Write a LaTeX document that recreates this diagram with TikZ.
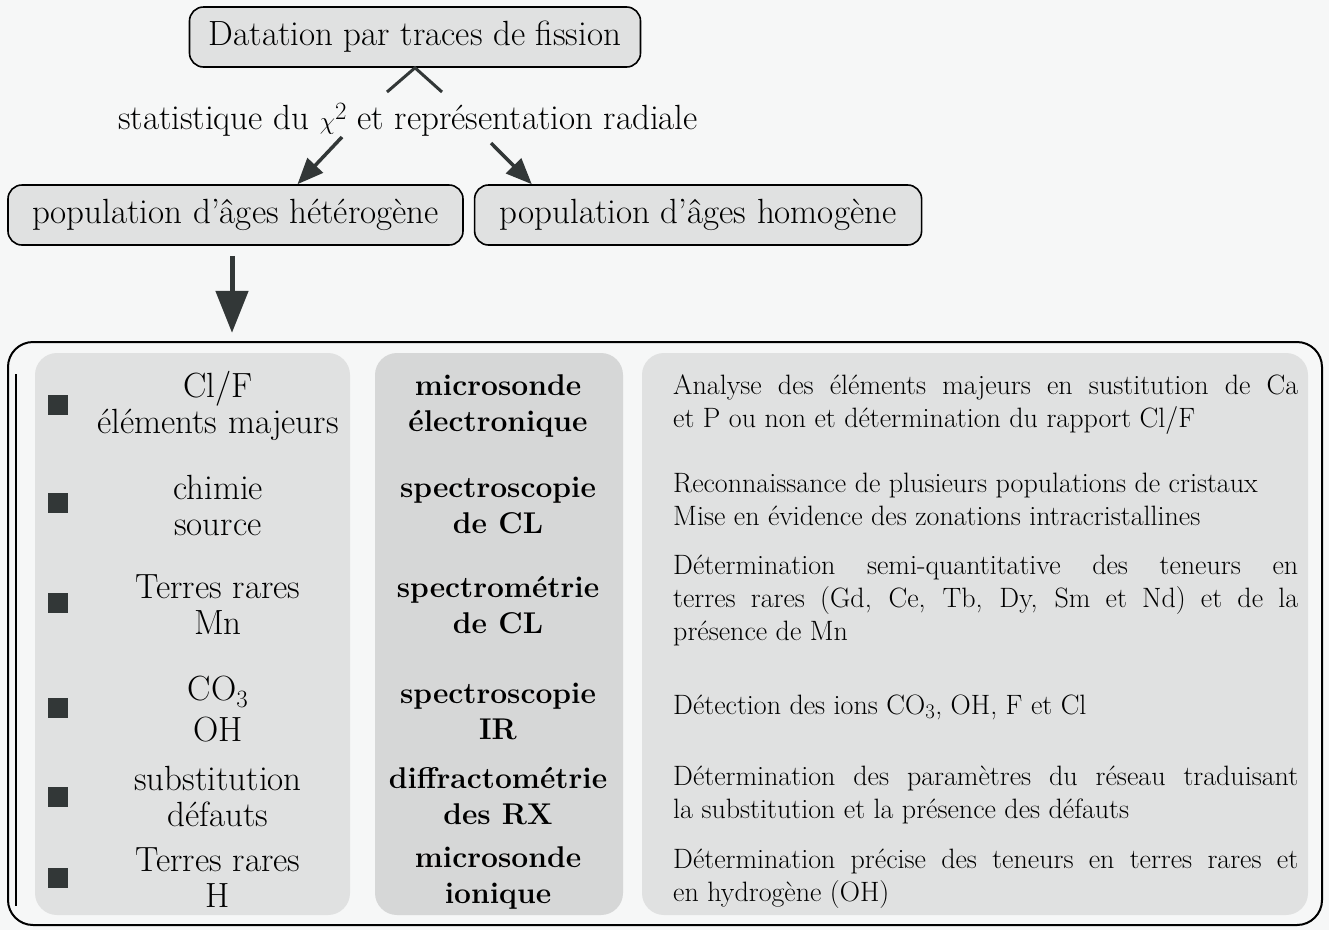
\documentclass[tikz,border=0pt]{standalone}
\usepackage{tikz}
\usetikzlibrary{arrows.meta,positioning}

\definecolor{paper}{RGB}{246,247,247}
\definecolor{boxgray}{RGB}{224,225,225}
\definecolor{panelgray}{RGB}{224,225,225}
\definecolor{midgray}{RGB}{214,215,215}
\definecolor{arrowgray}{RGB}{50,55,55}

\begin{document}
\begin{tikzpicture}[
    x=1pt, y=-1pt,
    popbox/.style={draw=black, line width=1.6pt, rectangle, fill=boxgray, rounded corners=14pt, minimum height=60pt, inner sep=0pt, font=\fontsize{35}{40}\selectfont},
    panel/.style={fill=panelgray, rounded corners=22pt, minimum height=562pt, inner sep=0pt},
    item/.style={align=center, inner sep=0pt, font=\fontsize{35}{36}\selectfont},
    method/.style={align=center, inner sep=0pt, font=\fontsize{30}{36}\selectfont\bfseries},
    desc/.style={anchor=west, text width=625pt, align=justify, inner sep=0pt, font=\fontsize{28}{33}\selectfont},
    bullet/.style={fill=arrowgray, minimum size=20pt, inner sep=0pt},
    arrow/.style={-{Triangle[length=26pt, width=21pt]}, line width=3.5pt, draw=arrowgray},
    bigarrow/.style={-{Triangle[length=42pt, width=32pt]}, line width=5pt, draw=arrowgray}
]
  \useasboundingbox (0,0) rectangle (1329,930);
  \fill[paper] (0,0) rectangle (1329,930);

  % Nodes
  \node (top) [popbox, minimum width=451pt] at (415,37) {Datation par traces de fission};
  \node (stat) [anchor=base, font=\fontsize{35}{40}\selectfont] at (408,129) {statistique du $\chi^2$ et représentation radiale};
  \node (het) [popbox, minimum width=455pt] at (235.5,215) {population d’âges hétérogène};
  \node (hom) [popbox, minimum width=447pt, right=10pt of het] {population d’âges homogène};

  \node (outer) [draw=black, line width=2pt, rounded corners=25pt, minimum width=1314pt, minimum height=583pt, inner sep=0pt] at (665,633.5) {};
  \node (panA) [panel, minimum width=315pt] at (192.5,634) {};
  \node (panB) [panel, fill=midgray, minimum width=248pt] at (499,634) {};
  \node (panC) [panel, minimum width=666pt] at (975,634) {};

  % Rows
  \node (b1) [bullet] at (58,405) {};
  \node (b2) [bullet] at (58,503) {};
  \node (b3) [bullet] at (58,603) {};
  \node (b4) [bullet] at (58,708) {};
  \node (b5) [bullet] at (58,797) {};
  \node (b6) [bullet] at (58,878) {};

  \node (i1) [item] at (218,406) {Cl/F\\éléments majeurs};
  \node (i2) [item] at (218,505) {chimie\\source};
  \node (i3) [item] at (218,605) {Terres rares\\Mn};
  \node (i4) [item] at (218,709) {CO$_3$\\[5pt]OH};
  \node (i5) [item] at (218,796) {substitution\\défauts};
  \node (i6) [item] at (218,878) {Terres rares\\H};

  \node (m1) [method] at (498,406) {microsonde\\électronique};
  \node (m2) [method] at (498,505) {spectroscopie\\de CL};
  \node (m3) [method] at (498,605) {spectrométrie\\de CL};
  \node (m4) [method] at (498,711) {spectroscopie\\IR};
  \node (m5) [method] at (498,796) {diffractométrie\\des RX};
  \node (m6) [method] at (498,878) {microsonde\\ionique};

  \node (d1) [desc] at (673,405) {Analyse des éléments majeurs en sustitution de Ca\linebreak et P ou non et détermination du rapport Cl/F};
  \node (d2) [desc] at (673,499) {Reconnaissance de plusieurs populations de cristaux\\Mise en évidence des zonations intracristallines};
  \node (d3) [desc] at (673,600) {Détermination semi-quantitative des teneurs en\linebreak terres rares (Gd, Ce, Tb, Dy, Sm et Nd) et de la\linebreak présence de Mn};
  \node (d4) [desc] at (673,707) {Détection des ions CO$_3$, OH, F et Cl};
  \node (d5) [desc] at (673,795) {Détermination des paramètres du réseau traduisant\linebreak la substitution et la présence des défauts};
  \node (d6) [desc] at (673,879) {Détermination précise des teneurs en terres rares et\linebreak en hydrogène (OH)};

  % Arrows
  \coordinate (lamL) at (387,92);
  \coordinate (lamR) at (442,92);
  \draw [line width=3pt, draw=arrowgray] (lamL) -- (top.south) -- (lamR);

  \coordinate (startL) at (342,137);
  \coordinate (startR) at (491,143);
  \draw [arrow] (startL) -- ([xshift=62pt]het.north);
  \draw [arrow] (startR) -- ([xshift=58pt]hom.north west);
  \draw [bigarrow] ([xshift=-3.5pt,yshift=-10pt]het.south) -- ([xshift=-3.5pt,yshift=-87pt]het.south);

  % Inner rule
  \draw [line width=2pt] ([xshift=9pt,yshift=-33pt]outer.north west) -- ([xshift=9pt,yshift=20pt]outer.south west);

\end{tikzpicture}
\end{document}
